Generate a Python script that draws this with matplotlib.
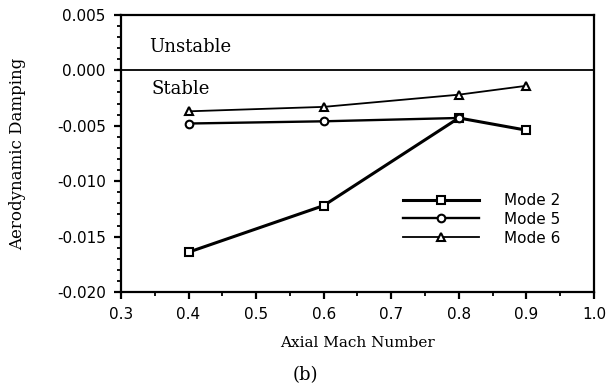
import numpy as np
import matplotlib.pyplot as plt
from matplotlib.ticker import MultipleLocator

# data
mach2 = [0.4, 0.6, 0.8, 0.9]
mode2 = [-0.0164, -0.0122, -0.0043, -0.0054]
mach5 = [0.4, 0.6, 0.8]
mode5 = [-0.0048, -0.0046, -0.0043]
mach6 = [0.4, 0.6, 0.8, 0.9]
mode6 = [-0.0037, -0.0033, -0.0022, -0.0014]

serif = ['DejaVu Serif']
sans = ['DejaVu Sans']

fig = plt.figure(figsize=(6.11, 3.9), dpi=100)
ax = fig.add_axes([0.198, 0.251, 0.774, 0.711])

l2, = ax.plot(mach2, mode2, 'k-', marker='s', ms=5.5, mfc='white', mew=1.5, lw=2.2)
l5, = ax.plot(mach5, mode5, 'k-', marker='o', ms=5.5, mfc='white', mew=1.5, lw=1.7)
l6, = ax.plot(mach6, mode6, 'k-', marker='^', ms=5.5, mfc='white', mew=1.5, lw=1.3)
ax.axhline(0.0, color='k', lw=1.3)

ax.set_xlim(0.3, 1.0)
ax.set_ylim(-0.020, 0.005)
ax.xaxis.set_major_locator(MultipleLocator(0.1))
ax.xaxis.set_minor_locator(MultipleLocator(0.05))
ax.yaxis.set_major_locator(MultipleLocator(0.005))
ax.yaxis.set_minor_locator(MultipleLocator(0.001))
ax.set_xticklabels(['%.1f' % v for v in ax.get_xticks()])
ax.set_yticklabels(['%.3f' % v if abs(v) > 1e-9 else '0.000' for v in ax.get_yticks()])
ax.tick_params(which='major', direction='out', length=5, width=1.6, labelsize=11, pad=6)
ax.tick_params(which='minor', direction='out', length=3, width=1.3)
for lab in ax.get_xticklabels() + ax.get_yticklabels():
    lab.set_family(sans)
for s in ax.spines.values():
    s.set_linewidth(1.6)

ax.set_xlabel('Axial Mach Number', family=serif, fontsize=11, labelpad=10)
ax.set_ylabel('Aerodynamic Damping', family=serif, fontsize=12, labelpad=22)
ax.text(0.341, 0.0021, 'Unstable', family=serif, fontsize=13, va='center')
ax.text(0.345, -0.0017, 'Stable', family=serif, fontsize=13, va='center')
fig.text(0.5, 0.025, '(b)', family=serif, fontsize=13, ha='center')

ax.legend([l2, l5, l6], ['Mode 2', 'Mode 5', 'Mode 6'], loc='upper left',
          bbox_to_anchor=(403 / 611, 1 - 193 / 390), bbox_transform=fig.transFigure,
          frameon=False, handlelength=5.0, handletextpad=1.6, labelspacing=0.25,
          borderpad=0, borderaxespad=0, prop={'family': sans, 'size': 11})

plt.savefig('out.png', dpi=100)
